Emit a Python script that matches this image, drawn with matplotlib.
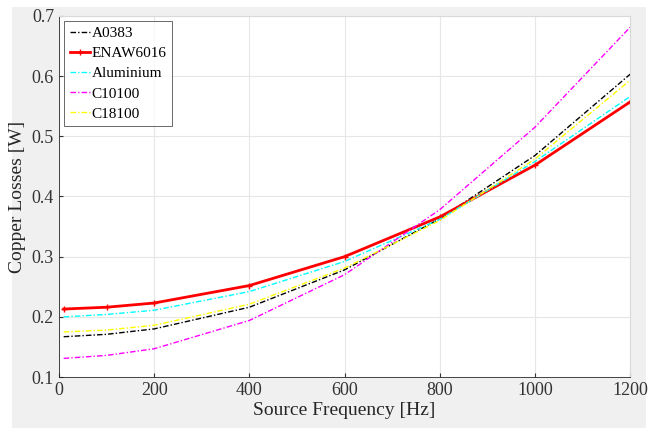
import matplotlib.pyplot as plt
from matplotlib.patches import Rectangle

# Data
freq = [10, 100, 200, 400, 600, 800, 1000, 1200]
a0383 = [0.167, 0.171, 0.180, 0.216, 0.278, 0.363, 0.468, 0.603]
enaw6016 = [0.213, 0.216, 0.223, 0.252, 0.300, 0.366, 0.452, 0.557]
aluminium = [0.200, 0.204, 0.211, 0.242, 0.292, 0.362, 0.458, 0.566]
c10100 = [0.131, 0.136, 0.147, 0.194, 0.270, 0.378, 0.515, 0.681]
c18100 = [0.175, 0.178, 0.186, 0.221, 0.281, 0.360, 0.462, 0.593]

plt.rcParams['font.family'] = ['Liberation Serif', 'DejaVu Serif']

fig = plt.figure(figsize=(6.55, 4.28), dpi=100, facecolor='white')
# grey panel behind the axes (white margin at top and sides)
fig.patches.append(Rectangle((12 / 655, 0), 634 / 655, 421 / 428,
                             transform=fig.transFigure, facecolor='#f0f0f0',
                             edgecolor='none', zorder=-1))
ax = fig.add_axes([0.09, 0.119, 0.872, 0.844])

dd = (0, (4, 1.5, 1, 1.5))
ax.plot(freq, a0383, color='black', linestyle=dd, linewidth=1.0, label='A0383')
ax.plot(freq, enaw6016, color='red', linestyle='-', linewidth=2.0, marker='+',
        markersize=5, label='ENAW6016')
ax.plot(freq, aluminium, color='cyan', linestyle=dd, linewidth=1.0, label='Aluminium')
ax.plot(freq, c10100, color='magenta', linestyle=dd, linewidth=1.0, label='C10100')
ax.plot(freq, c18100, color='yellow', linestyle=dd, linewidth=1.0, label='C18100')

ax.set_xlim(0, 1200)
ax.set_ylim(0.1, 0.7)
ax.set_xticks([0, 200, 400, 600, 800, 1000, 1200])
ax.set_yticks([0.1, 0.2, 0.3, 0.4, 0.5, 0.6, 0.7])
ax.grid(True, color='#e6e6e6', linewidth=0.8)
ax.tick_params(labelsize=13, colors='#333333', direction='in', length=3)
for s in ['top', 'right']:
    ax.spines[s].set_color('#d9d9d9')
    ax.spines[s].set_linewidth(0.8)
for s in ['left', 'bottom']:
    ax.spines[s].set_color('#262626')
    ax.spines[s].set_linewidth(0.6)

ax.set_xlabel('Source Frequency [Hz]', fontsize=14, color='#262626', labelpad=2)
ax.set_ylabel('Copper Losses [W]', fontsize=14, color='#262626', labelpad=4)

leg = ax.legend(loc='upper left', fontsize=11, frameon=True, fancybox=False,
                handlelength=1.3, handletextpad=0.15, borderpad=0.35,
                labelspacing=0.42, borderaxespad=0.35)
leg.get_frame().set_edgecolor('#262626')
leg.get_frame().set_linewidth(0.6)

fig.savefig('out.png', dpi=100, facecolor=fig.get_facecolor())
